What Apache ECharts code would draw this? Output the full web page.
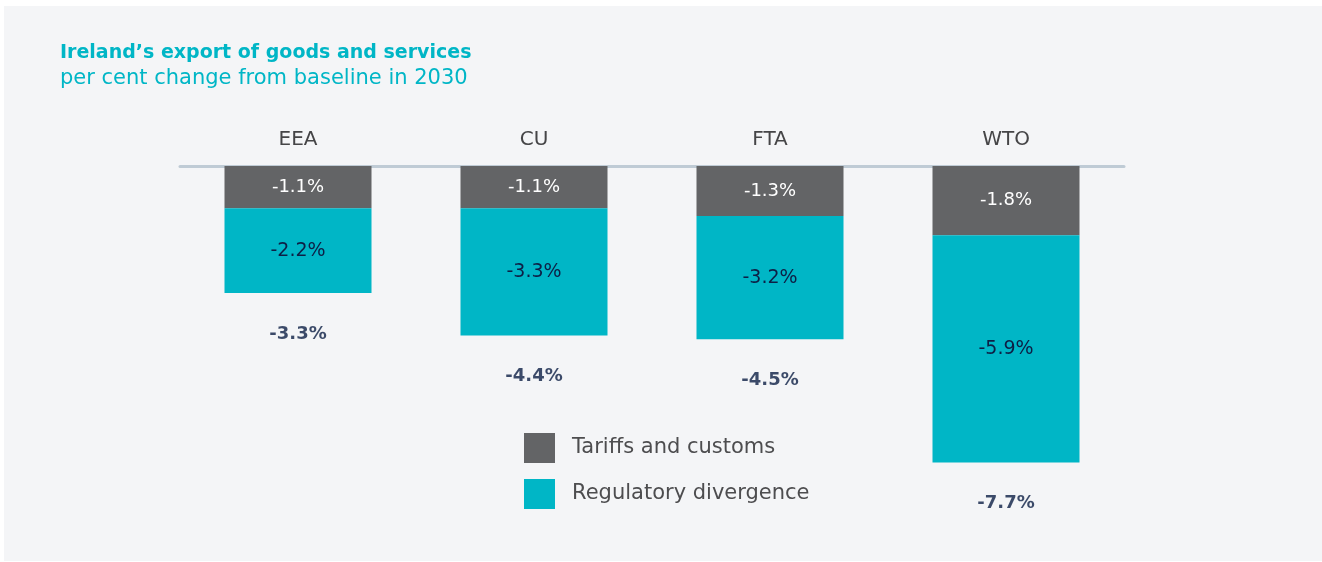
<!DOCTYPE html>
<html>
<head>
<meta charset="utf-8">
<script src="https://cdn.jsdelivr.net/npm/echarts@6/dist/echarts.min.js"></script>
<style>
  html, body { margin: 0; padding: 0; background: #ffffff; }
  #wrap { position: relative; width: 1322px; height: 562px; }
  #panel { position: absolute; left: 4px; top: 6px; width: 1318px; height: 555px; background: #f4f5f7; }
  #chart { position: absolute; left: 0; top: 0; width: 1322px; height: 562px; }
</style>
</head>
<body>
<div id="wrap">
  <div id="panel"></div>
  <div id="chart"></div>
</div>
<script>
// Scenarios and their effects (per cent change from baseline in 2030)
const categories = ['EEA', 'CU', 'FTA', 'WTO'];
const tariffs = [-1.1, -1.1, -1.3, -1.8];
const regulatory = [-2.2, -3.3, -3.2, -5.9];
const totals = [-3.3, -4.4, -4.5, -7.7];

const FONT = 'DejaVu Sans';
const TEAL = '#00b6c6';
const GREY = '#636466';
const NAVY = '#0d1f45';

const chart = echarts.init(document.getElementById('chart'));

const pct = p => p.value.toFixed(1) + '%';

const option = {
    animation: false,
    textStyle: { fontFamily: FONT },
    title: {
        text: 'Ireland’s export of goods and services',
        subtext: 'per cent change from baseline in 2030',
        left: 55,
        top: 39,
        itemGap: 5,
        textStyle: { color: TEAL, fontSize: 19, fontWeight: 'bold', fontFamily: FONT },
        subtextStyle: { color: TEAL, fontSize: 21, fontFamily: FONT }
    },
    legend: {
        data: ['Tariffs and customs', 'Regulatory divergence'],
        orient: 'vertical',
        left: 524,
        top: 433,
        padding: 0,
        itemWidth: 31,
        itemHeight: 30,
        itemGap: 16,
        icon: 'rect',
        selectedMode: false,
        textStyle: { color: '#4d4d4f', fontSize: 21, fontFamily: FONT, padding: [0, 0, 0, 12] }
    },
    grid: { left: 180, right: 198, top: 166, height: 385 },
    xAxis: {
        type: 'category',
        position: 'top',
        data: categories,
        axisLine: { show: true, lineStyle: { color: '#bfcbd5', width: 3 } },
        axisTick: { show: false },
        axisLabel: { color: '#454547', fontSize: 20, margin: 16, fontFamily: FONT }
    },
    yAxis: {
        type: 'value',
        min: -10,
        max: 0,
        show: false,
        splitLine: { show: false }
    },
    series: [
        {
            name: 'Tariffs and customs',
            type: 'bar',
            stack: 'total',
            data: tariffs,
            barWidth: 147,
            itemStyle: { color: GREY },
            label: { show: true, position: 'inside', color: '#ffffff', fontSize: 18, formatter: pct, fontFamily: FONT }
        },
        {
            name: 'Regulatory divergence',
            type: 'bar',
            stack: 'total',
            data: regulatory,
            barWidth: 147,
            itemStyle: { color: TEAL },
            label: { show: true, position: 'inside', color: NAVY, fontSize: 19, formatter: pct, fontFamily: FONT }
        },
        {
            name: 'Total',
            type: 'scatter',
            data: totals,
            symbolSize: 0,
            silent: true,
            label: { show: true, position: 'bottom', distance: 32, color: NAVY, fontSize: 18, fontWeight: 'bold', formatter: pct, fontFamily: FONT }
        }
    ]
};

chart.setOption(option);
</script>
</body>
</html>
